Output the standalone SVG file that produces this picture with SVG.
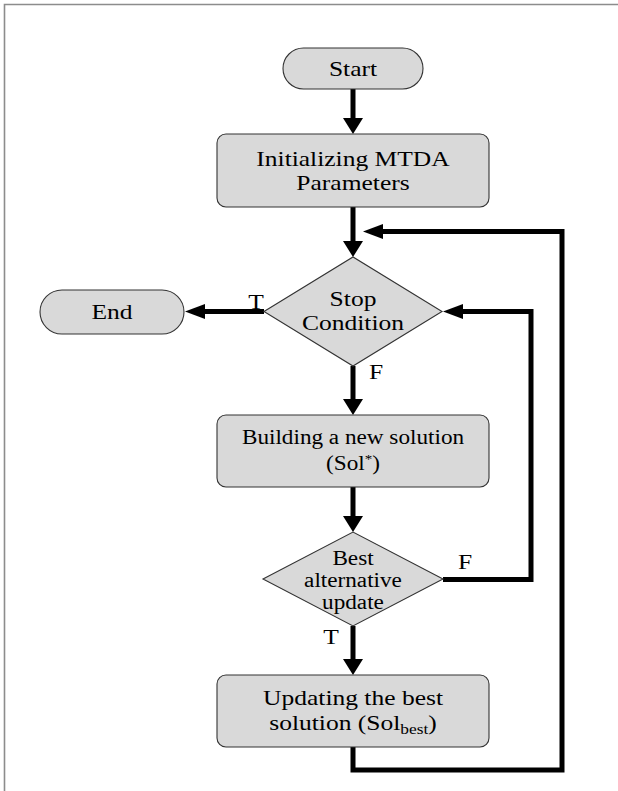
<svg xmlns="http://www.w3.org/2000/svg" width="618" height="791" viewBox="0 0 618 791">
<defs>
<style>
.bg{fill:#ffffff}
.frame{fill:none;stroke:#8c8c8c;stroke-width:1.6}
.node{fill:#d9d9d9;stroke:#333333;stroke-width:1.1}
.t{font-family:"Liberation Serif","Times New Roman",serif;font-size:22px;fill:#000;text-anchor:middle}
.s{font-size:20px}
.lab{font-family:"Liberation Serif","Times New Roman",serif;font-size:22px;fill:#000;text-anchor:middle}
.c{fill:none;stroke:#000;stroke-width:5;stroke-linejoin:miter}
.dn{marker-end:url(#av)}
.lf{marker-end:url(#ah)}
</style>
<marker id="av" viewBox="0 -10 16 20" refX="0" refY="0" markerWidth="16" markerHeight="20" markerUnits="userSpaceOnUse" orient="auto">
<path d="M0,-10 L16,0 L0,10 z" fill="#000"/>
</marker>
<marker id="ah" viewBox="0 -7.5 20 15" refX="0" refY="0" markerWidth="20" markerHeight="15" markerUnits="userSpaceOnUse" orient="auto">
<path d="M0,-7.5 L20,0 L0,7.5 z" fill="#000"/>
</marker>
</defs>
<rect class="bg" x="0" y="0" width="618" height="791"/>
<path class="frame" d="M4.5,791 L4.5,4.5 L618,4.5"/>

<g id="connectors">
<line class="c dn" x1="353" y1="89" x2="353" y2="118"/>
<line class="c dn" x1="353" y1="207" x2="353" y2="241"/>
<line class="c lf" x1="264" y1="311.5" x2="205" y2="311.5"/>
<line class="c dn" x1="353" y1="366" x2="353" y2="399"/>
<line class="c dn" x1="353" y1="487" x2="353" y2="516"/>
<line class="c dn" x1="353" y1="626" x2="353" y2="659"/>
<path class="c lf" d="M443,579.5 H531 V311.5 H463"/>
<path class="c lf" d="M353,747 V770 H562 V231.5 H383"/>
<text class="lab" transform="translate(256 0) scale(1.16 1)" x="0" y="309">T</text>
<text class="lab" transform="translate(376 0) scale(1.16 1)" x="0" y="379">F</text>
<text class="lab" transform="translate(465 0) scale(1.16 1)" x="0" y="569">F</text>
<text class="lab" transform="translate(331 0) scale(1.16 1)" x="0" y="644">T</text>
</g>

<g id="start">
<rect class="node" x="283" y="48" width="140" height="41" rx="20.5"/>
<text class="t" transform="translate(353 0) scale(1.16 1)" x="0" y="76">Start</text>
</g>

<g id="init">
<rect class="node" x="217" y="134" width="272" height="73" rx="9"/>
<text class="t" transform="translate(353 0) scale(1.16 1)" x="0" y="166">Initializing MTDA</text>
<text class="t" transform="translate(353 0) scale(1.16 1)" x="0" y="190">Parameters</text>
</g>

<g id="stop">
<polygon class="node" points="264,311.5 353,257 442,311.5 353,366"/>
<text class="t" transform="translate(353 0) scale(1.16 1)" x="0" y="306">Stop</text>
<text class="t" transform="translate(353 0) scale(1.16 1)" x="0" y="330">Condition</text>
</g>

<g id="end">
<rect class="node" x="40" y="290" width="144" height="44" rx="22"/>
<text class="t" transform="translate(112 0) scale(1.16 1)" x="0" y="319">End</text>
</g>

<g id="build">
<rect class="node" x="217" y="415" width="272" height="72" rx="9"/>
<text class="t s" transform="translate(353 0) scale(1.16 1)" x="0" y="444">Building a new solution</text>
<text class="t s" transform="translate(353 0) scale(1.16 1)" x="0" y="470">(Sol<tspan font-size="13" dy="-7">*</tspan><tspan dy="7">)</tspan></text>
</g>

<g id="best">
<polygon class="node" points="263,579 353,532 443,579 353,626"/>
<text class="t s" transform="translate(353 0) scale(1.16 1)" x="0" y="565">Best</text>
<text class="t s" transform="translate(353 0) scale(1.16 1)" x="0" y="587">alternative</text>
<text class="t s" transform="translate(353 0) scale(1.16 1)" x="0" y="609">update</text>
</g>

<g id="update">
<rect class="node" x="217" y="675" width="272" height="72" rx="9"/>
<text class="t" transform="translate(353 0) scale(1.16 1)" x="0" y="705">Updating the best</text>
<text class="t" transform="translate(353 0) scale(1.16 1)" x="0" y="730">solution (Sol<tspan font-size="15" dy="4">best</tspan><tspan dy="-4">)</tspan></text>
</g>
</svg>
